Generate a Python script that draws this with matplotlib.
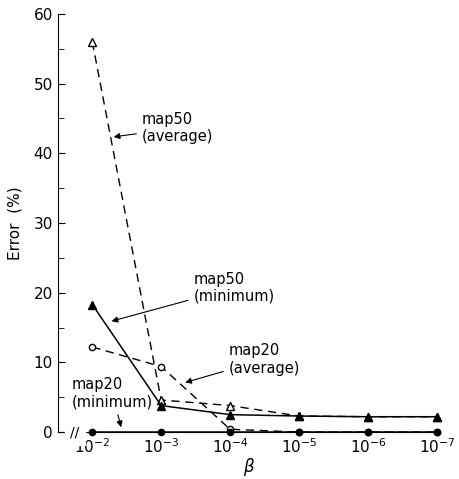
import numpy as np
import matplotlib
matplotlib.use("Agg")
import matplotlib.pyplot as plt

# --- data ---
beta = [1e-2, 1e-3, 1e-4, 1e-5, 1e-6, 1e-7]
map50_avg = [56.0, 4.6, 3.8, 2.3, 2.2, 2.2]
map50_min = [18.3, 3.8, 2.5, 2.3, 2.2, 2.2]
map20_avg = [12.2, 9.4, 0.4, 0.0, 0.0, 0.0]
map20_min = [0.0, 0.0, 0.0, 0.0, 0.0, 0.0]
xtick_labels = [r"$10^{-%d}$" % k for k in range(2, 8)]

fig = plt.figure(figsize=(4.59, 4.79), dpi=100)
ax = fig.add_axes([0.126, 0.098, 0.833, 0.873])

dash = (0, (6, 4))
ax.plot(beta, map50_avg, color="black", lw=1.0, linestyle=dash,
        marker="^", mfc="white", mec="black", ms=6, clip_on=False)
ax.plot(beta, map50_min, color="black", lw=1.1, marker="^", ms=6, clip_on=False)
ax.plot(beta, map20_avg, color="black", lw=1.0, linestyle=dash,
        marker="o", mfc="white", mec="black", ms=4.5, clip_on=False)
ax.plot(beta, map20_min, color="black", lw=1.1, marker="o", ms=4.5, clip_on=False)

ax.set_xscale("log")
ax.set_xlim(10 ** -1.5, 10 ** -7.05)
ax.set_ylim(0, 60)
ax.set_xticks(beta)
ax.set_xticklabels(xtick_labels, fontsize=11)
ax.minorticks_off()
ax.set_yticks(np.arange(0, 61, 10))
ax.set_yticks(np.arange(5, 60, 10), minor=True)
ax.tick_params(axis="y", which="both", direction="in", labelsize=11)
ax.tick_params(axis="y", which="major", length=5)
ax.tick_params(axis="y", which="minor", length=4)
ax.tick_params(axis="x", length=0, pad=4)

for s in ["top", "right"]:
    ax.spines[s].set_visible(False)

ax.set_ylabel("Error  (%)", fontsize=11, labelpad=8)
ax.set_xlabel(r"$\beta$", fontsize=12, labelpad=0)

# axis break mark
ax.text(0.045, 0.0, "//", transform=ax.transAxes, ha="center", va="center",
        fontsize=10, backgroundcolor="white")

arrow = dict(arrowstyle="-|>", color="black", lw=0.8, mutation_scale=9)
ax.annotate("map50\n(average)", xy=(10 ** -2.27, 42.3), xytext=(10 ** -2.72, 43.6),
            fontsize=10.5, ha="left", va="center", arrowprops=arrow)
ax.annotate("map50\n(minimum)", xy=(10 ** -2.24, 15.8), xytext=(10 ** -3.47, 20.7),
            fontsize=10.5, ha="left", va="center", arrowprops=arrow)
ax.annotate("map20\n(average)", xy=(10 ** -3.31, 7.0), xytext=(10 ** -3.98, 10.4),
            fontsize=10.5, ha="left", va="center", arrowprops=arrow)
ax.annotate("map20\n(minimum)", xy=(10 ** -2.43, 0.3), xytext=(10 ** -1.7, 5.6),
            fontsize=10.5, ha="left", va="center", arrowprops=arrow)

fig.savefig("out.png", dpi=100)
